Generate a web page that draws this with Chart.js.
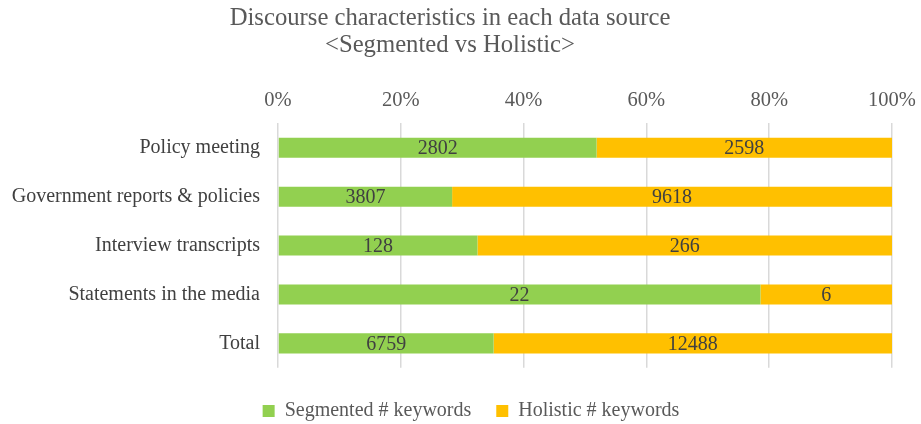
<!DOCTYPE html>
<html>
<head>
<meta charset="utf-8">
<script src="https://cdn.jsdelivr.net/npm/chart.js@4"></script>
<style>
  html, body { margin: 0; padding: 0; background: #fff; }
  #wrap { width: 921px; height: 424px; }
</style>
</head>
<body>
<div id="wrap"><canvas id="discourseChart" width="921" height="424"></canvas></div>
<script>
const categories = ['Policy meeting', 'Government reports & policies', 'Interview transcripts', 'Statements in the media', 'Total'];
const segmentedCounts = [2802, 3807, 128, 22, 6759];
const holisticCounts = [2598, 9618, 266, 6, 12488];
const seriesNames = ['Segmented # keywords', 'Holistic # keywords'];
const seriesColors = ['#92d050', '#ffc000'];

const serif = "'Liberation Serif', 'Times New Roman', serif";

// share of each row, for the 100% stack
const rowTotals = segmentedCounts.map((v, i) => v + holisticCounts[i]);
const segmentedPct = segmentedCounts.map((v, i) => v / rowTotals[i] * 100);
const holisticPct = holisticCounts.map((v, i) => v / rowTotals[i] * 100);

// writes the raw count in the middle of each segment
const countLabels = {
    id: 'countLabels',
    afterDatasetsDraw(chart) {
        const ctx = chart.ctx;
        ctx.save();
        ctx.font = '20px ' + serif;
        ctx.fillStyle = '#404040';
        ctx.textAlign = 'center';
        ctx.textBaseline = 'middle';
        chart.data.datasets.forEach((ds, di) => {
            chart.getDatasetMeta(di).data.forEach((bar, i) => {
                const mid = (bar.x + bar.base) / 2;
                ctx.fillText(ds.counts[i], mid, bar.y + 1);
            });
        });
        ctx.restore();
    }
};

// legend in the original sits a bit right of centre
const legendShift = {
    id: 'legendShift',
    afterLayout(chart) {
        chart.legend.left += 21;
        chart.legend.right += 21;
    }
};

new Chart(document.getElementById('discourseChart'), {
    type: 'bar',
    data: {
        labels: categories,
        datasets: [
            { label: seriesNames[0], data: segmentedPct, counts: segmentedCounts, backgroundColor: seriesColors[0],
              categoryPercentage: 1, barPercentage: 0.41 },
            { label: seriesNames[1], data: holisticPct, counts: holisticCounts, backgroundColor: seriesColors[1],
              categoryPercentage: 1, barPercentage: 0.41 }
        ]
    },
    options: {
        indexAxis: 'y',
        responsive: false,
        animation: false,
        layout: { padding: { left: 8, right: 29, top: 5, bottom: -7 } },
        plugins: {
            title: {
                display: true,
                text: ['Discourse characteristics in each data source', '<Segmented vs Holistic>'],
                color: '#595959',
                font: { family: serif, size: 24.7, weight: 'normal', lineHeight: 1.1 },
                padding: { top: 0, bottom: 0 }
            },
            legend: {
                position: 'bottom',
                // empty title only used as spacer above the items
                title: { display: true, text: '', font: { size: 1 }, padding: { top: 7, bottom: 0 } },
                labels: {
                    color: '#595959',
                    font: { family: serif, size: 20 },
                    boxWidth: 12, boxHeight: 12, padding: 25
                }
            },
            tooltip: { enabled: false }
        },
        scales: {
            x: {
                position: 'top',
                stacked: true,
                min: 0, max: 100,
                afterFit: scale => { scale.paddingLeft = 0; scale.paddingRight = 0; scale.height = 64; },
                ticks: { stepSize: 20, color: '#595959', font: { family: serif, size: 20.5 }, padding: 10,
                         callback: v => v + '%' },
                grid: { color: '#d9d9d9', lineWidth: 1.5, drawTicks: false },
                border: { display: false }
            },
            y: {
                stacked: true,
                afterFit: scale => { scale.width = 270; },
                ticks: { color: '#404040', font: { family: serif, size: 20 }, padding: 10 },
                grid: { display: false },
                border: { display: false }
            }
        }
    },
    plugins: [countLabels, legendShift]
});
</script>
</body>
</html>
